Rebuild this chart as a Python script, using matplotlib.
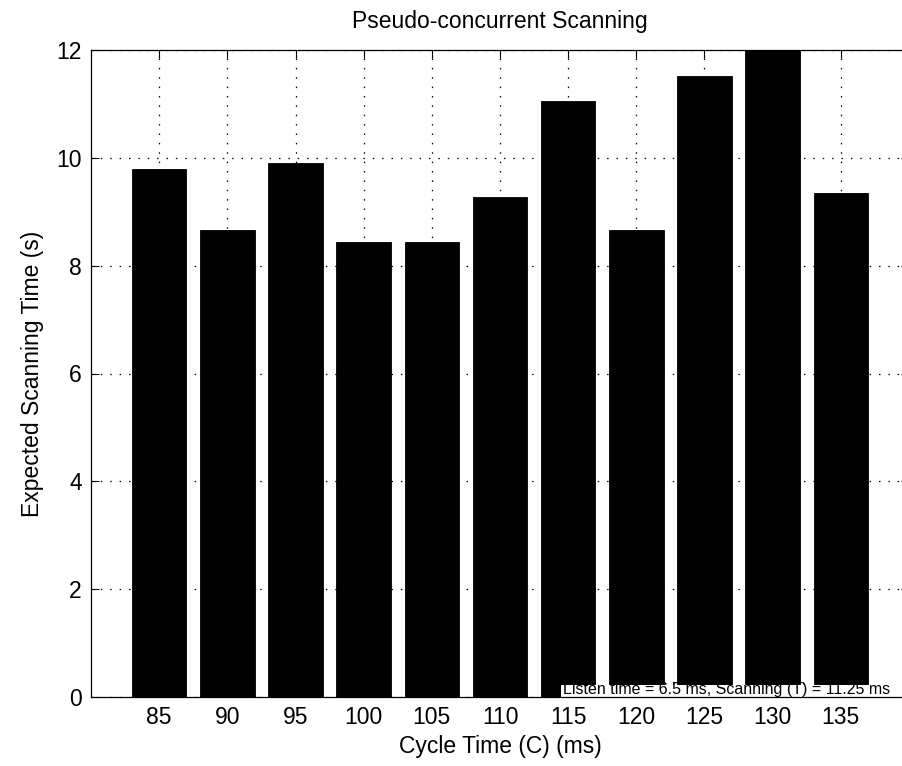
import matplotlib
matplotlib.use("Agg")
import matplotlib.pyplot as plt
from matplotlib.patches import Rectangle
from matplotlib.transforms import Bbox, TransformedBbox

plt.rcParams['font.family'] = ['Liberation Sans', 'DejaVu Sans']

cycle_times = [85, 90, 95, 100, 105, 110, 115, 120, 125, 130, 135]
scan_times = [9.80, 8.67, 9.90, 8.43, 8.43, 9.27, 11.05, 8.67, 11.51, 12.40, 9.34]
x_ticks = [85, 90, 95, 100, 105, 110, 115, 120, 125, 130, 135]
y_ticks = [0, 2, 4, 6, 8, 10, 12]
title = "Pseudo-concurrent Scanning"
xlabel = "Cycle Time (C) (ms)"
ylabel = "Expected Scanning Time (s)"
note = "Listen time = 6.5 ms, Scanning (T) = 11.25 ms"

W, H = 903, 766
fig = plt.figure(figsize=(W / 100, H / 100), dpi=100)
ax = fig.add_axes([91 / W, 69 / H, 818 / W, 647 / H])

ax.bar(cycle_times, scan_times, width=4, color='black', edgecolor='black',
       linewidth=0.6, zorder=2)

ax.set_xlim(80, 140)
ax.set_ylim(0, 12)
ax.set_xticks(x_ticks)
ax.set_yticks(y_ticks)
ax.set_axisbelow(True)
ax.grid(True, color='black', linestyle=(0, (1.2, 6.3)), linewidth=0.9)
ax.tick_params(direction='in', length=5.5, width=0.8, top=True, right=True,
               labelsize=16.5, colors='black')
ax.tick_params(axis='x', pad=6.5)
ax.tick_params(axis='y', pad=6.5)
for s in ax.spines.values():
    s.set_linewidth(0.9)
    s.set_color('black')
ax.spines['right'].set_visible(False)

ax.set_title(title, fontsize=16.5, pad=16)
ax.set_xlabel(xlabel, fontsize=16.5, labelpad=4.5)
ax.set_ylabel(ylabel, fontsize=16.5, labelpad=9)

# partially hidden annotation near the bottom right
fs_note = 11.5
t_back = ax.text(138.6, 0.06, note, fontsize=fs_note, ha='right',
                 va='baseline', zorder=1)
fig.canvas.draw()
ext = t_back.get_window_extent(fig.canvas.get_renderer())
x0_data = ax.transData.inverted().transform((ext.x0 - 2, 0))[0]
strip_h = 0.22
ax.add_patch(Rectangle((x0_data, 0), 140 - x0_data, strip_h, facecolor='white',
                       edgecolor='none', zorder=2.4))
t_front = ax.text(138.6, 0.06, note, fontsize=fs_note, ha='right',
                  va='baseline', zorder=3)
t_front.set_clip_box(TransformedBbox(Bbox([[x0_data, 0], [140, strip_h]]),
                                     ax.transData))

fig.savefig("out.png", dpi=100)
